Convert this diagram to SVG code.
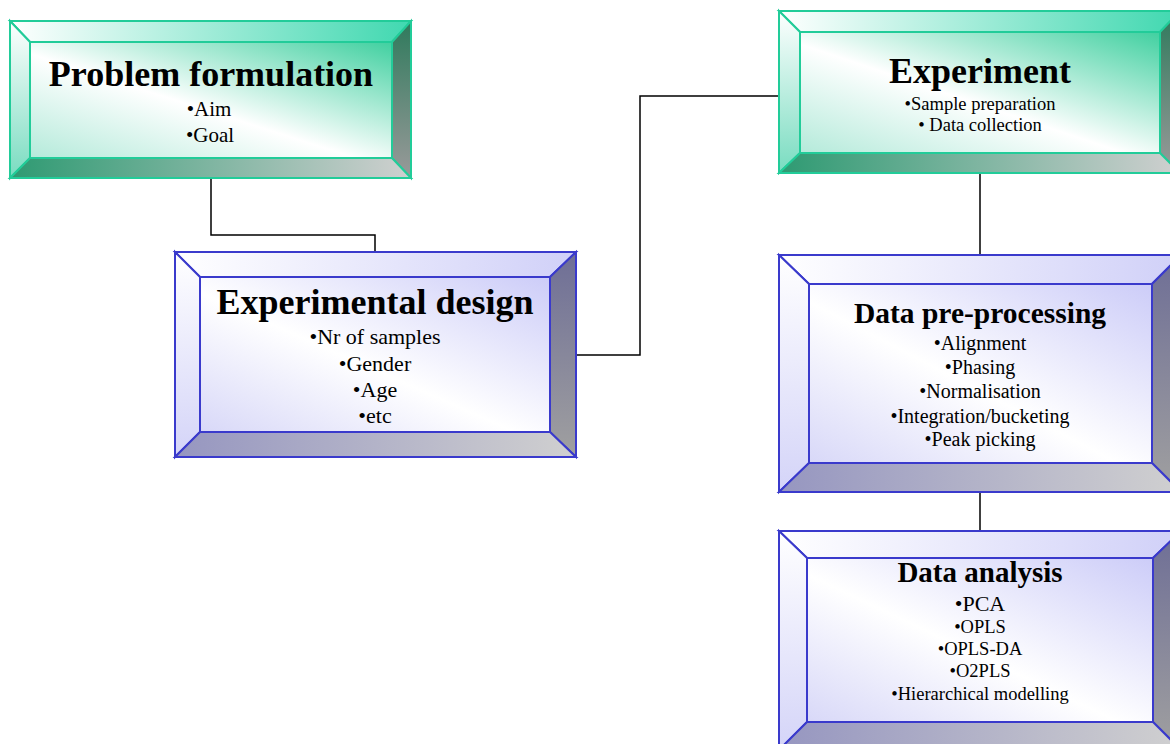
<svg xmlns="http://www.w3.org/2000/svg" width="1170" height="744" viewBox="0 0 1170 744">
<defs>
<linearGradient id="gFace" x1="1" y1="0" x2="0" y2="1"><stop offset="0" stop-color="#40d0a0"/><stop offset="0.55" stop-color="#ffffff"/><stop offset="1" stop-color="#b4eada"/></linearGradient>
<linearGradient id="gTop" x1="0" y1="0" x2="1" y2="0"><stop offset="0" stop-color="#ffffff"/><stop offset="1" stop-color="#40d8b0"/></linearGradient>
<linearGradient id="gLeft" x1="0" y1="0" x2="0" y2="1"><stop offset="0" stop-color="#ffffff"/><stop offset="1" stop-color="#78dcc0"/></linearGradient>
<linearGradient id="gRight" x1="0" y1="0" x2="0" y2="1"><stop offset="0" stop-color="#2e7a5c"/><stop offset="1" stop-color="#9a9a9a"/></linearGradient>
<linearGradient id="gBot" x1="0" y1="0" x2="1" y2="0"><stop offset="0" stop-color="#2e9a72"/><stop offset="1" stop-color="#d0d0d0"/></linearGradient>
<linearGradient id="bFace" x1="1" y1="0" x2="0" y2="1"><stop offset="0" stop-color="#ccccf8"/><stop offset="0.55" stop-color="#ffffff"/><stop offset="1" stop-color="#d8d8f8"/></linearGradient>
<linearGradient id="bTop" x1="0" y1="0" x2="1" y2="0"><stop offset="0" stop-color="#ffffff"/><stop offset="1" stop-color="#d0d0f8"/></linearGradient>
<linearGradient id="bLeft" x1="0" y1="0" x2="0" y2="1"><stop offset="0" stop-color="#ffffff"/><stop offset="1" stop-color="#d4d4f8"/></linearGradient>
<linearGradient id="bRight" x1="0" y1="0" x2="0" y2="1"><stop offset="0" stop-color="#6e6e96"/><stop offset="1" stop-color="#a0a0a0"/></linearGradient>
<linearGradient id="bBot" x1="0" y1="0" x2="1" y2="0"><stop offset="0" stop-color="#9696c0"/><stop offset="1" stop-color="#d0d0d0"/></linearGradient>
</defs>
<style>
.g polygon,.g rect{stroke:#22cc99;stroke-width:2;stroke-linejoin:miter}
.b polygon,.b rect{stroke:#3a3acc;stroke-width:2;stroke-linejoin:miter}
.g .face{fill:url(#gFace)} .g .top{fill:url(#gTop)} .g .left{fill:url(#gLeft)} .g .right{fill:url(#gRight)} .g .bot{fill:url(#gBot)}
.b .face{fill:url(#bFace)} .b .top{fill:url(#bTop)} .b .left{fill:url(#bLeft)} .b .right{fill:url(#bRight)} .b .bot{fill:url(#bBot)}
text{font-family:"Liberation Serif","Times New Roman",serif;fill:#000;text-anchor:middle}
.t{font-weight:bold}
.conn{fill:none;stroke:#000;stroke-width:1.5}
</style>
<g id="connectors">
<path class="conn" d="M211,178 V235 H375 V252"/>
<path class="conn" d="M576,355 H640 V96 H779"/>
<path class="conn" d="M980,173 V255"/>
<path class="conn" d="M980,492 V531"/>
</g>
<g id="problem-formulation" class="g">
<polygon class="top" points="10,21 411,21 392,42 30,42"/>
<polygon class="left" points="10,21 30,42 30,158 10,178"/>
<polygon class="right" points="411,21 411,178 392,158 392,42"/>
<polygon class="bot" points="10,178 30,158 392,158 411,178"/>
<rect class="face" x="30" y="42" width="362" height="116"/>
<text class="t" x="211" y="86" font-size="36">Problem formulation</text>
<text x="209" y="116" font-size="21">•Aim</text>
<text x="210" y="142" font-size="21">•Goal</text>
</g>
<g id="experimental-design" class="b">
<polygon class="top" points="175,252 576,252 550,277 200,277"/>
<polygon class="left" points="175,252 200,277 200,432 175,457"/>
<polygon class="right" points="576,252 576,457 550,432 550,277"/>
<polygon class="bot" points="175,457 200,432 550,432 576,457"/>
<rect class="face" x="200" y="277" width="350" height="155"/>
<text class="t" x="375" y="314" font-size="36">Experimental design</text>
<text x="375" y="344" font-size="22">•Nr of samples</text>
<text x="375" y="371" font-size="22">•Gender</text>
<text x="375" y="397" font-size="22">•Age</text>
<text x="375" y="423" font-size="22">•etc</text>
</g>
<g id="experiment" class="g">
<polygon class="top" points="779,11 1180,11 1160,32 800,32"/>
<polygon class="left" points="779,11 800,32 800,153 779,173"/>
<polygon class="right" points="1180,11 1180,173 1160,153 1160,32"/>
<polygon class="bot" points="779,173 800,153 1160,153 1180,173"/>
<rect class="face" x="800" y="32" width="360" height="121"/>
<text class="t" x="980" y="83" font-size="36">Experiment</text>
<text x="980" y="110" font-size="18.5">•Sample preparation</text>
<text x="980" y="131" font-size="18.5">• Data collection</text>
</g>
<g id="data-pre-processing" class="b">
<polygon class="top" points="779,255 1181,255 1152,284 809,284"/>
<polygon class="left" points="779,255 809,284 809,463 779,492"/>
<polygon class="right" points="1181,255 1181,492 1152,463 1152,284"/>
<polygon class="bot" points="779,492 809,463 1152,463 1181,492"/>
<rect class="face" x="809" y="284" width="343" height="179"/>
<text class="t" x="980" y="323" font-size="29.5">Data pre-processing</text>
<text x="980" y="350" font-size="20">•Alignment</text>
<text x="980" y="374" font-size="20">•Phasing</text>
<text x="980" y="398" font-size="20">•Normalisation</text>
<text x="980" y="423" font-size="20">•Integration/bucketing</text>
<text x="980" y="446" font-size="20">•Peak picking</text>
</g>
<g id="data-analysis" class="b">
<polygon class="top" points="779,531 1181,531 1153,558 807,558"/>
<polygon class="left" points="779,531 807,558 807,722 779,750"/>
<polygon class="right" points="1181,531 1181,750 1153,722 1153,558"/>
<polygon class="bot" points="779,750 807,722 1153,722 1181,750"/>
<rect class="face" x="807" y="558" width="346" height="164"/>
<text class="t" x="980" y="582" font-size="29">Data analysis</text>
<text x="980" y="611" font-size="22">•PCA</text>
<text x="980" y="633" font-size="18.5">•OPLS</text>
<text x="980" y="655" font-size="18.5">•OPLS-DA</text>
<text x="980" y="677" font-size="18.5">•O2PLS</text>
<text x="980" y="700" font-size="18.5">•Hierarchical modelling</text>
</g>
</svg>
